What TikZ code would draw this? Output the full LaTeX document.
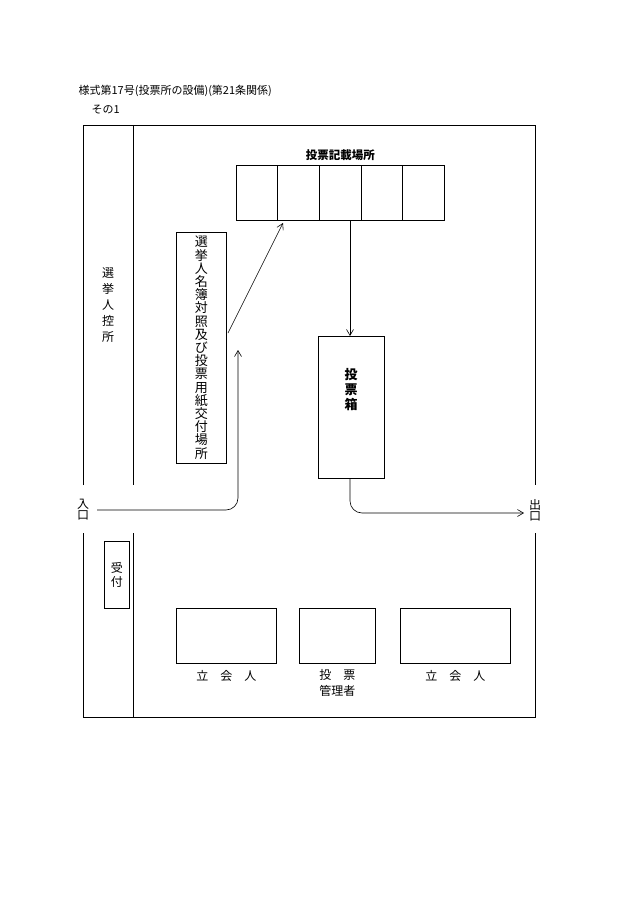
\documentclass[tikz,border=0pt]{standalone}
\usepackage{fontspec}
\setmainfont{Noto Sans CJK JP}
\usepackage{tikz}
\usetikzlibrary{arrows.meta,positioning}

\begin{document}
\begin{tikzpicture}[x=1pt,y=-1pt,>={Straight Barb[length=6pt,width=7pt]},
                    line width=0.6pt,font=\fontsize{12}{14}\selectfont,
                    vbox/.style={draw,align=center,inner sep=0pt},
                    vtext/.style={align=center,font=\fontsize{12}{14}\selectfont},
                    flow/.style={->,rounded corners=12pt}]
 \useasboundingbox (0,0) rectangle (630,915);

 \node [anchor=west,font=\fontsize{11}{13}\selectfont] (title) at (75,91) {様式第17号(投票所の設備)(第21条関係)};
 \node [anchor=west,font=\fontsize{11}{13}\selectfont] (sono)  at (88,110) {その1};

% walls
 \draw (83,485) -- (83,125) -- (535,125) -- (535,485);
 \draw (83,533) -- (83,717) -- (535,717) -- (535,533);
 \draw (133,125) -- (133,485);
 \draw (133,533) -- (133,717);

 \node [vtext] (iri) at (83,510) {入\\[-3pt]口};
 \node [vtext] (de)  at (535,510) {出\\[-3pt]口};
 \node [vtext,font=\fontsize{12}{16}\selectfont] (hikae) at (108,305) {選\\挙\\人\\控\\所};

% writing booths
 \node [vbox,minimum width=208,minimum height=55,anchor=north west] (kisai) at (236,165) {};
 \foreach \i in {1,...,4}
   \draw ([xshift=41.6*\i]kisai.north west) -- ([xshift=41.6*\i]kisai.south west);
 \node [above=1pt of kisai,font=\fontsize{11.5}{13}\selectfont\bfseries] (kisaiL) {投票記載場所};

 \node [vbox,minimum width=50,minimum height=231,anchor=north west,
        font=\fontsize{13}{13.2}\selectfont] (koufu) at (176,232)
   {選\\挙\\人\\名\\簿\\対\\照\\及\\び\\投\\票\\用\\紙\\交\\付\\場\\所};
 \node [vbox,minimum width=66,minimum height=142,anchor=north west] (hako) at (318,336) {};
 \node [vtext,font=\fontsize{13}{15}\selectfont\bfseries] (hakoL) at (351,390) {投\\票\\箱};
 \node [vbox,minimum width=25,minimum height=67,anchor=north west] (uketsuke) at (104,541)
   {受\\付};

 \node [vbox,minimum width=100,minimum height=55,anchor=north west] (tachi1) at (176,608) {};
 \node [vbox,minimum width=76,minimum height=55,anchor=north west] (kanri) at (299,608) {};
 \node [vbox,minimum width=110,minimum height=55,anchor=north west] (tachi2) at (400,608) {};
 \node [below=3pt of tachi1] {立\quad 会\quad 人};
 \node [below=3pt of tachi2] {立\quad 会\quad 人};
 \node [below=2pt of kanri,align=center,font=\fontsize{12}{16}\selectfont] {投\quad 票\\管理者};

% flow
 \coordinate (in) at (97,510);
 \coordinate (out) at (524,513);
 \draw [flow] (in) -- (238,510) -- (238,350);
 \draw [->] (228,333) -- (283,223);
 \draw [->] (350,220) -- (hako.north -| 350,0);
 \draw [flow] (hako.south -| 350,0) -- (350,513) -- (out);
\end{tikzpicture}
\end{document}
